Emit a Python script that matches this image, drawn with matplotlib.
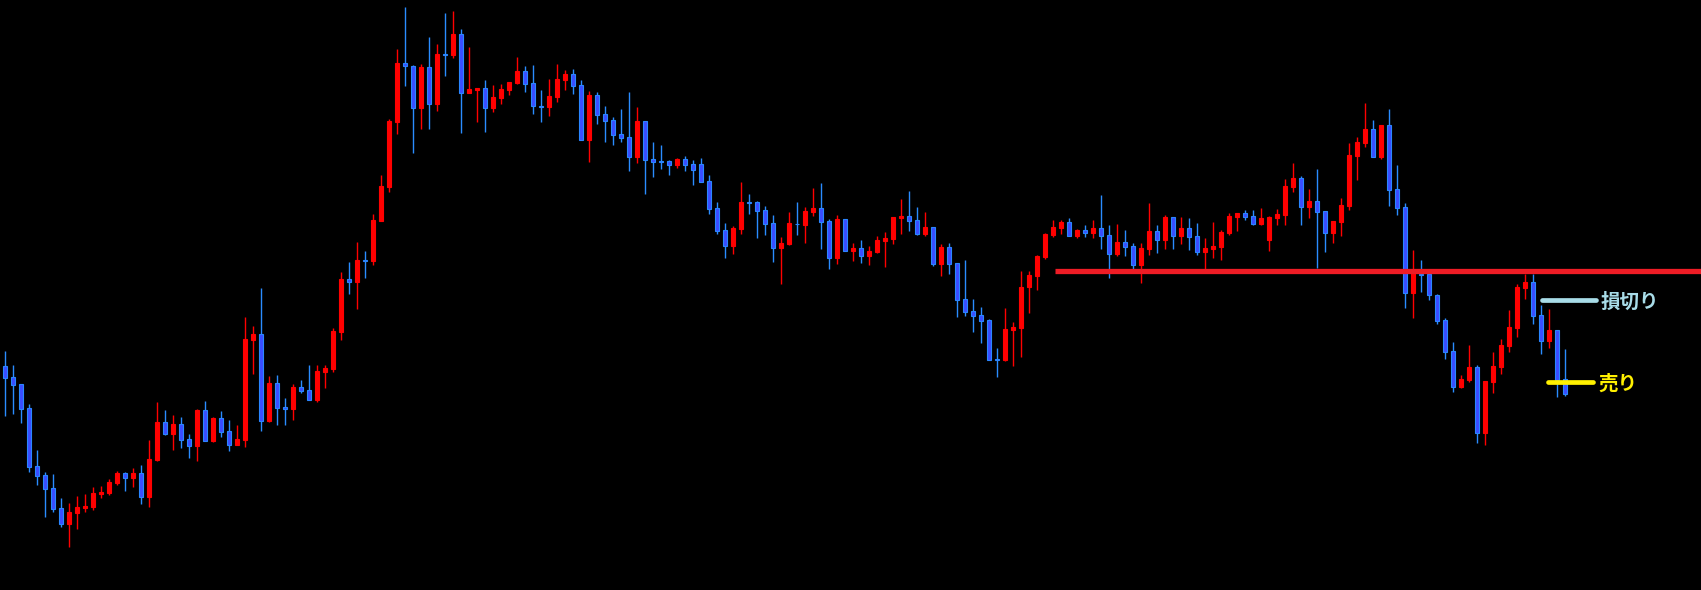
import matplotlib
matplotlib.use("Agg")
import matplotlib.pyplot as plt
import numpy as np

# OHLC values (arbitrary price units)
opens = [224, 213, 206, 182, 124, 115, 102, 82, 66.3, 77.3, 82.3, 83, 96, 97, 107, 117, 112.3, 117, 93.3, 130.3,
         168, 156.3, 165.7, 150.7, 144.3, 179.7, 149.3, 172, 159, 145.3, 150.3, 250.3, 256, 169.3, 207, 183, 181.3, 203, 200, 190.3,
         218.3, 221, 258.3, 311, 308.3, 330, 329.3, 369.3, 403.3, 468.3, 527, 524, 482.3, 523, 486.3, 536, 535.3, 556, 497.3, 500.3,
         502, 482.3, 492.3, 500.3, 507, 519, 507, 484.3, 483.3, 493, 510, 516, 505, 450, 495, 476, 470, 456, 453, 433,
         469, 431, 429, 429, 425, 431, 426, 426, 409, 382, 360, 344, 361, 388, 388, 380, 367, 342.3, 346, 366.5,
         365, 378, 382, 369, 332.3, 371, 339, 341.7, 334.3, 338, 349, 351, 372, 374, 370, 356.3, 363, 326.3, 343, 327,
         291, 278.7, 274.7, 269.7, 230.7, 230.3, 260.3, 262.3, 302.7, 314.3, 333, 355, 362, 368, 354, 360, 357, 362, 355, 336,
         348, 344, 325, 341, 359, 350, 373, 354.3, 362, 354, 338.3, 341.3, 343.3, 357.3, 373.3, 377, 374, 366.3, 350.3, 372,
         375.3, 403, 412, 383.3, 389, 379, 357.3, 368.3, 384.3, 434.3, 447, 461, 433.3, 465, 401, 383, 297.3, 316, 315.7, 295,
         270, 239, 203.3, 210.3, 223, 157.3, 208.3, 223.3, 244.3, 262.3, 302.3, 308, 275, 249.3, 260, 211]
highs = [239, 225, 206, 186, 140, 118, 116, 92, 87, 94, 96, 103, 104, 111, 119, 118, 122, 125, 150, 188,
         180, 175, 173, 156, 181, 189, 173, 179, 170, 165, 273, 264, 302, 214, 215, 192, 206, 210, 225, 225,
         225, 262, 318, 328, 348, 339, 376, 415, 471, 541, 583, 525, 526, 553, 546, 577, 579, 561, 543, 502,
         510, 505, 506, 508, 533, 524, 525, 500, 511, 526, 520, 521, 510, 499, 498, 484, 473, 481, 498, 483,
         469, 448, 445, 430, 432, 434, 430, 432, 415, 388, 367, 364, 408, 396, 389, 384, 375, 353, 378, 388,
         383, 402, 407, 371, 375, 371, 347, 350, 344, 354, 358, 373, 391, 399, 383, 378, 363, 346, 347, 327,
         330, 290.7, 282.7, 270.7, 241.7, 281.7, 268, 318.7, 318.7, 334.7, 357, 370, 370, 372, 361, 365, 370, 395, 365, 366,
         360, 347, 347, 387, 365, 375, 373, 373, 372, 367, 352, 368, 360, 377, 377, 380, 380, 382, 374, 381,
         411, 427, 414, 401, 421, 379, 369.3, 392, 447, 453, 487, 470, 465, 481, 425, 387, 340, 330, 317, 296,
         272, 248, 215, 245, 225, 209, 238, 251, 280, 306, 316, 316, 285, 281, 260, 241]
lows = [174.3, 176.3, 167.3, 118.3, 105, 73.3, 78.3, 63.3, 43.3, 61.3, 78.3, 80.3, 92.3, 95.3, 105.3, 99.3, 103.3, 86.3, 83.3, 129.3,
        155.3, 140.3, 142.3, 132.3, 129.3, 149.3, 148.3, 153.3, 139.3, 145.3, 143.3, 216.3, 159.3, 168.3, 165.3, 165.3, 170.3, 197.3, 190.3, 188.3,
        202.3, 218.3, 250.3, 296.3, 281.3, 312.3, 325.3, 369.3, 398.3, 456.3, 504.3, 437.3, 461.3, 461.3, 479.3, 514.3, 532.3, 457.3, 497.3, 468.3,
        458.3, 478.3, 486.3, 495.3, 506.3, 498.3, 476.3, 468.3, 474.3, 488, 500, 496, 450, 428, 466, 448, 445, 448, 419, 427,
        396, 413, 421, 415, 422, 419, 405, 408, 376, 356, 332, 336, 356, 376, 352, 355, 328, 306, 345, 355,
        347, 374, 341, 321.3, 326.3, 339.3, 329, 327, 325, 337, 323, 346, 356, 359, 355.3, 354, 324.3, 314.3, 316.3, 273.3,
        274.3, 258.3, 247.3, 230.3, 213.3, 229.3, 224.3, 233.3, 277.3, 300.3, 331, 353, 356, 354, 352, 353, 352, 341, 312, 334,
        334, 320, 307, 335, 337, 341, 341, 346.3, 340.3, 335.3, 320, 332.3, 330.3, 355.3, 359.3, 370.3, 365.3, 365.3, 339.3, 365.3,
        365.3, 398.3, 365.3, 372.3, 322.3, 338.3, 347.3, 354.3, 380.3, 410.3, 443, 433.3, 431.3, 384.3, 375.3, 282.3, 271.7, 298.3, 290.3, 266.3,
        231.3, 198.3, 202.3, 208.3, 147.3, 145.3, 197.3, 216.3, 238.3, 253.3, 291.3, 266.3, 236.3, 242.3, 193.3, 194.3]
closes = [212.3, 205.3, 181.3, 123.3, 114.3, 101.3, 81.3, 66.3, 78, 83, 84, 97, 98, 108, 117, 112.3, 117, 93.3, 131, 168,
          156.3, 166, 150.3, 144.3, 180, 149.3, 172, 158.3, 145.3, 151, 251, 256, 169.3, 207, 182.3, 181.3, 203, 199.3, 190.3, 219,
          222, 259, 311, 308.3, 330, 329, 370, 404, 469, 527, 523.7, 482.3, 523, 486.3, 536, 535, 556, 497.3, 501, 502,
          482.3, 493, 501, 508, 519, 506.3, 484.3, 483.5, 494, 511, 516, 504, 450, 495, 475, 469, 455, 452, 433, 469,
          430, 428, 428.5, 425, 431, 425, 420, 408, 381, 359, 344, 362, 388, 387.5, 379.3, 366.3, 342.3, 347, 367, 366,
          379, 382, 368.3, 332.3, 371, 339.3, 342.3, 334.3, 339, 350, 352, 373, 374, 369.3, 356.3, 363, 326.3, 343, 326.3, 290.3,
          278.3, 274.3, 269.3, 230.3, 230.3, 261, 262.7, 302.7, 314.7, 334, 356, 363, 368, 354, 360, 357, 362, 354, 336, 348,
          343, 325, 342, 359, 350, 373, 354.3, 362, 353.3, 338.3, 342, 344, 358, 374, 377, 373.3, 366.3, 372, 373, 376,
          404, 412, 383.3, 389, 378.3, 357.3, 369.3, 385, 435, 448, 461, 433.3, 465, 400.3, 382.3, 297.3, 318, 315.5, 295, 269.3,
          238.3, 203.3, 211, 223, 157.3, 209, 224, 245, 263, 303, 308, 274.3, 249.3, 260, 210.3, 196.3]

# Horizontal levels
resistance_level = 318.7
resistance_start = 131.2
stop_level = 289.7
stop_label = "損切り"
sell_level = 207.6
sell_label = "売り"

UP = "#FF0000"
DN_FACE = "#3A4CFF"
DN_EDGE = "#2A86FF"
DN_WICK = "#2A8CFF"

o = np.array(opens, float); h = np.array(highs, float)
l = np.array(lows, float); c = np.array(closes, float)
x = np.arange(len(o))
up = c >= o

fig = plt.figure(figsize=(17.01, 5.90), dpi=100, facecolor="black")
ax = fig.add_axes([0, 0, 1, 1])
ax.set_facecolor("black")
ax.set_axis_off()

wick_colors = np.where(up, UP, DN_WICK)
ax.vlines(x, l, h, colors=wick_colors, linewidth=1.0, zorder=2)

bw = 0.5
ax.bar(x[up], (c - o)[up], bottom=o[up], width=bw, color=UP, edgecolor=UP, linewidth=0.8, zorder=3)
ax.bar(x[~up], (c - o)[~up], bottom=o[~up], width=bw, color=DN_FACE, edgecolor=DN_EDGE, linewidth=0.8, zorder=3)

# resistance line
ax.plot([resistance_start, 215], [resistance_level, resistance_level], color="#EE1C25",
        linewidth=3.8, solid_capstyle="butt", zorder=4)

# stop loss / sell markers
ax.plot([192.1, 198.8], [stop_level, stop_level], color="#A8DCE8", linewidth=3.4,
        solid_capstyle="round", zorder=4)
ax.plot([192.85, 198.4], [sell_level, sell_level], color="#FFF000", linewidth=3.4,
        solid_capstyle="round", zorder=4)

ax.text(199.4, stop_level - 1.5, stop_label, color="#A8DCE8", fontsize=14, fontweight="bold",
        family=["Noto Sans CJK JP", "DejaVu Sans"], va="center", ha="left", zorder=5)
ax.text(199.2, sell_level - 2.0, sell_label, color="#FFF000", fontsize=14, fontweight="bold",
        family=["Noto Sans CJK JP", "DejaVu Sans"], va="center", ha="left", zorder=5)

ax.set_xlim(-0.6625, 211.96)
ax.set_ylim(0, 590)

fig.savefig("out.png", dpi=100, facecolor="black")
